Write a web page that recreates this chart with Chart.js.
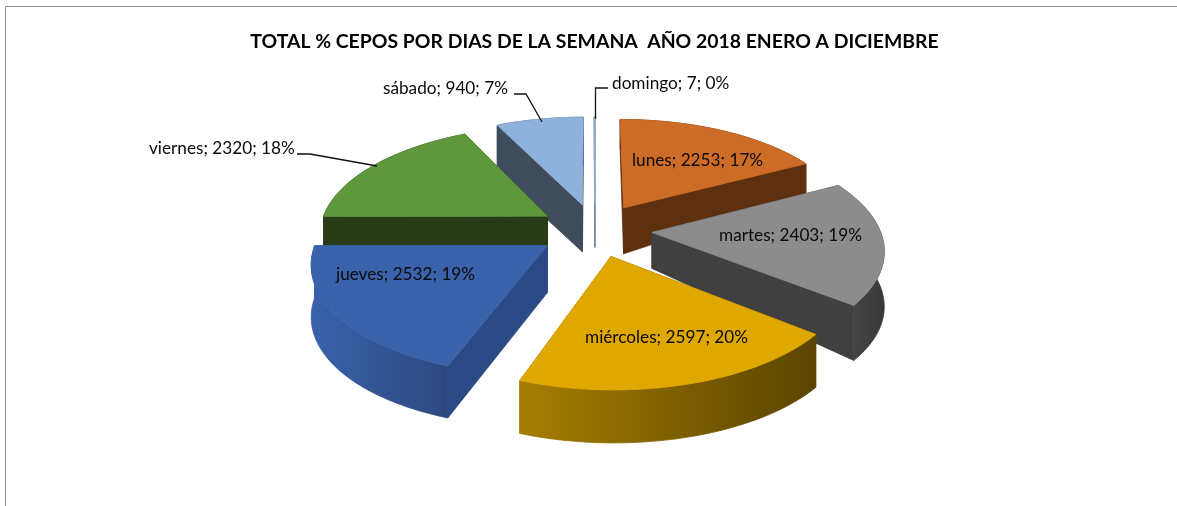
<!DOCTYPE html>
<html>
<head>
<meta charset="utf-8">
<style>html,body{margin:0;padding:0;background:#fff}canvas{display:block}</style>
<script src="https://cdn.jsdelivr.net/npm/chart.js@4"></script>
</head>
<body>
<canvas id="c" width="1177" height="506"></canvas>
<script>
const titleText = 'TOTAL % CEPOS POR DIAS DE LA SEMANA  AÑO 2018 ENERO A DICIEMBRE';
const categories = ['lunes','martes','miércoles','jueves','viernes','sábado','domingo'];
const values = [2253,2403,2597,2532,2320,940,7];
const percents = [17,19,20,19,18,7,0];

const topColors = ['#CC6C26','#8C8C8C','#DFA800','#3A63AB','#5F983C','#8FB2DC','#8FB2DC'];
const wallColors = ['#5E300F','#404040','#6B5100','#2C4A85','#2A3B18','#3F4C5C','#6F8096'];
const rimLeft = ['#5E300F','#4C4C4C','#A67E00','#3A62AB','#2A3B18','#3F4C5C','#6F8096'];
const rimRight = ['#5E300F','#383838','#5A4400','#2C487F','#2A3B18','#3F4C5C','#6F8096'];
const depthNear = [46,36,50,47,32,47,43];
const depthFar = [30,55,53,52,30,48,43];

const labelX = [632,719,585,336,149,383,612];
const labelY = [160,235,337,274,148,88,83];
const leaders = [null,null,null,null,
  [[297,154],[310,154],[377,166]],
  [[514,94],[526,94],[542,122]],
  [[595.5,119],[595.5,88],[608,88]]];

const view = {cx:595, cy:230, R:228, Rk:106.5, persp:0.14, explode:0.25};

function project(u,v,drop){
  const w = 1 + view.persp*v;
  return [view.cx + view.R*u/w, view.cy - view.Rk*v/w + drop];
}

const pie3d = {
  id:'pie3d',
  beforeDatasetsDraw(chart){
    const ctx = chart.ctx;
    const meta = chart.getDatasetMeta(0);
    const items = meta.data.map((arc,i)=>{
      const p = arc.getProps(['startAngle','endAngle']);
      const a0 = p.startAngle + Math.PI/2, a1 = p.endAngle + Math.PI/2;
      const mid = (a0+a1)/2;
      return {arc,i,a0,a1,ox:view.explode*Math.sin(mid),oy:view.explode*Math.cos(mid),order:Math.cos(mid)};
    }).sort((a,b)=>b.order-a.order);

    function fillPoly(pts,fill,stroke){
      ctx.beginPath();
      pts.forEach((q,k)=>k?ctx.lineTo(q[0],q[1]):ctx.moveTo(q[0],q[1]));
      ctx.closePath();
      ctx.fillStyle = fill; ctx.fill();
      ctx.strokeStyle = stroke || fill; ctx.lineWidth = 0.8; ctx.stroke();
    }
    items.forEach(s=>{
      const i = s.i, N = Math.max(2,Math.ceil((s.a1-s.a0)*40));
      const near = depthNear[i], far = depthFar[i];
      const rimTop = [], rimBot = [];
      for(let k=0;k<=N;k++){
        const a = s.a0+(s.a1-s.a0)*k/N;
        const u = s.ox+Math.sin(a), v = s.oy+Math.cos(a);
        rimTop.push(project(u,v,0)); rimBot.push(project(u,v,far));
      }
      const apexT = project(s.ox,s.oy,0), apexB = project(s.ox,s.oy,near);
      const wall = (t,b)=>fillPoly([apexT,t,b,apexB],wallColors[i]);
      const walls = [[rimTop[0],rimBot[0]],[rimTop[N],rimBot[N]]].sort((p,q)=>p[0][1]-q[0][1]);
      walls.forEach(w=>wall(w[0],w[1]));
      const xs = rimTop.map(q=>q[0]);
      const g = ctx.createLinearGradient(Math.min(...xs),0,Math.max(...xs)+0.01,0);
      g.addColorStop(0,rimLeft[i]); g.addColorStop(1,rimRight[i]);
      fillPoly(rimTop.concat(rimBot.slice().reverse()),g,g);
      fillPoly([apexT].concat(rimTop),s.arc.options.backgroundColor);
    });
    return false;
  },
  afterDraw(chart){
    const ctx = chart.ctx;
    ctx.save();
    ctx.strokeStyle = '#8c8c8c'; ctx.lineWidth = 1;
    ctx.beginPath(); ctx.moveTo(5.5,506); ctx.lineTo(5.5,6.5); ctx.lineTo(1177,6.5); ctx.stroke();
    ctx.strokeStyle = '#111'; ctx.lineWidth = 1.3;
    leaders.forEach(l=>{
      if(!l) return;
      ctx.beginPath();
      l.forEach((q,k)=>k?ctx.lineTo(q[0],q[1]):ctx.moveTo(q[0],q[1]));
      ctx.stroke();
    });
    ctx.fillStyle = '#0a0a0a';
    ctx.font = '17.2px Lato';
    ctx.textAlign = 'left'; ctx.textBaseline = 'middle';
    categories.forEach((c,i)=>{
      ctx.fillText(c+'; '+values[i]+'; '+percents[i]+'%',labelX[i],labelY[i]);
    });
    ctx.restore();
  }
};

new Chart(document.getElementById('c'),{
  type:'pie',
  data:{labels:categories,datasets:[{data:values,backgroundColor:topColors,borderWidth:0}]},
  options:{
    responsive:false,animation:false,
    layout:{padding:{left:12,top:28}},
    plugins:{
      legend:{display:false},tooltip:{enabled:false},
      title:{display:true,text:titleText,color:'#000',font:{family:'Lato',size:19.4,weight:'bold'},padding:{top:2,bottom:10}}
    }
  },
  plugins:[pie3d]
});
</script>
</body>
</html>
